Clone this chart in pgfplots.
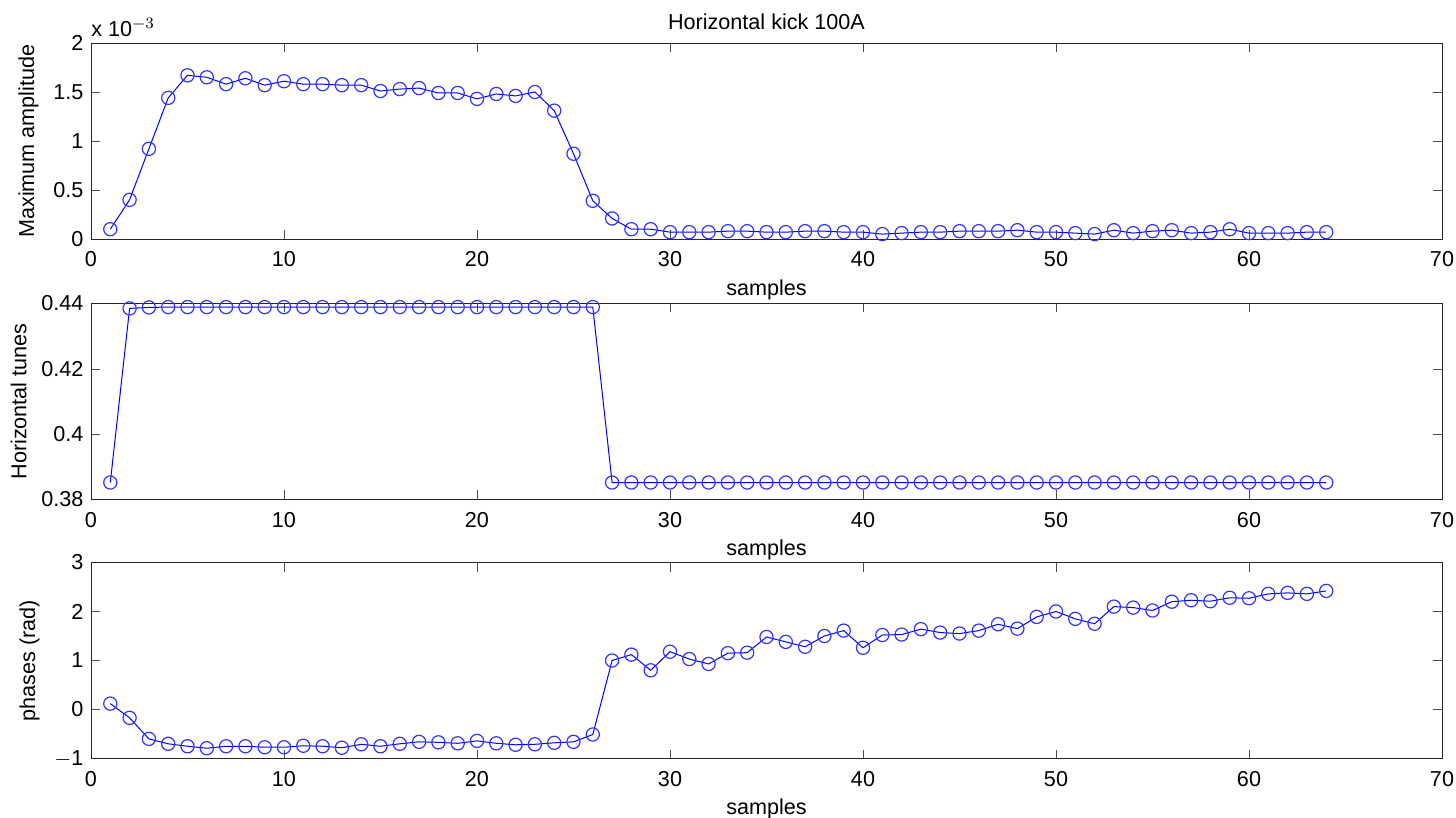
\documentclass[border=0pt]{standalone}
\usepackage{fontspec}
\setmainfont{Liberation Sans}
\usepackage{pgfplots}
\pgfplotsset{compat=1.18}

\pgfplotsset{
  matlab/.style={
    scale only axis, width=675.5pt, height=98pt,
    xmin=0, xmax=70, xtick={0,10,...,70},
    tick align=inside, major tick length=4.5pt,
    axis line style={black!85}, tick style={black!70},
    xlabel={samples},
    xticklabel style={yshift=-2.5pt},
    xlabel style={yshift=1pt},
    tick label style={font=\fontsize{10.8}{12}\selectfont},
    label style={font=\fontsize{10.8}{12}\selectfont},
    /pgf/number format/assume math mode=true,
    clip=false,
  },
  data/.style={blue, line width=0.5pt, mark=o, mark size=3.3pt,
    mark options={line width=0.6pt, draw=blue!80}},
}

\pgfplotstableread{
x y
1 0.10
2 0.40
3 0.92
4 1.44
5 1.67
6 1.65
7 1.58
8 1.64
9 1.57
10 1.61
11 1.58
12 1.58
13 1.57
14 1.57
15 1.51
16 1.53
17 1.54
18 1.49
19 1.49
20 1.43
21 1.48
22 1.46
23 1.50
24 1.31
25 0.87
26 0.39
27 0.21
28 0.10
29 0.10
30 0.07
31 0.07
32 0.07
33 0.08
34 0.08
35 0.07
36 0.07
37 0.08
38 0.08
39 0.07
40 0.07
41 0.05
42 0.06
43 0.07
44 0.07
45 0.08
46 0.08
47 0.08
48 0.09
49 0.07
50 0.07
51 0.06
52 0.05
53 0.09
54 0.06
55 0.08
56 0.09
57 0.06
58 0.07
59 0.10
60 0.06
61 0.06
62 0.06
63 0.07
64 0.07
}\amplitude

\pgfplotstableread{
x y
1 0.3852
2 0.4385
3 0.4388
4 0.4389
5 0.4389
6 0.4389
7 0.4389
8 0.4389
9 0.4389
10 0.4389
11 0.4389
12 0.4389
13 0.4389
14 0.4389
15 0.4389
16 0.4389
17 0.4389
18 0.4389
19 0.4389
20 0.4389
21 0.4389
22 0.4389
23 0.4389
24 0.4389
25 0.4389
26 0.4389
27 0.3852
28 0.3852
29 0.3852
30 0.3852
31 0.3852
32 0.3852
33 0.3852
34 0.3852
35 0.3852
36 0.3852
37 0.3852
38 0.3852
39 0.3852
40 0.3852
41 0.3852
42 0.3852
43 0.3852
44 0.3852
45 0.3852
46 0.3852
47 0.3852
48 0.3852
49 0.3852
50 0.3852
51 0.3852
52 0.3852
53 0.3852
54 0.3852
55 0.3852
56 0.3852
57 0.3852
58 0.3852
59 0.3852
60 0.3852
61 0.3852
62 0.3852
63 0.3852
64 0.3852
}\tunes

\pgfplotstableread{
x y
1 0.12
2 -0.17
3 -0.60
4 -0.70
5 -0.75
6 -0.79
7 -0.75
8 -0.75
9 -0.77
10 -0.77
11 -0.74
12 -0.75
13 -0.78
14 -0.71
15 -0.75
16 -0.70
17 -0.66
18 -0.67
19 -0.69
20 -0.64
21 -0.69
22 -0.72
23 -0.71
24 -0.68
25 -0.66
26 -0.51
27 1.00
28 1.12
29 0.80
30 1.18
31 1.03
32 0.93
33 1.15
34 1.16
35 1.48
36 1.38
37 1.28
38 1.50
39 1.61
40 1.26
41 1.52
42 1.53
43 1.64
44 1.57
45 1.55
46 1.61
47 1.74
48 1.65
49 1.89
50 2.00
51 1.85
52 1.75
53 2.10
54 2.08
55 2.02
56 2.20
57 2.23
58 2.21
59 2.28
60 2.27
61 2.36
62 2.38
63 2.36
64 2.42
}\phases

\begin{document}
\fontsize{10.8}{12}\selectfont
\begin{tikzpicture}
\useasboundingbox (-45.5pt,0pt) rectangle (682.5pt,-409pt);

\begin{axis}[matlab, at={(0pt,-21.5pt)}, anchor=north west,
  ymin=0, ymax=2, ytick={0,0.5,...,2},
  yticklabels={0,0.5,1,1.5,2},
  ylabel={Maximum amplitude},
  title={Horizontal kick 100A}, title style={yshift=-3pt}]
\addplot[data] table[x=x,y=y] {\amplitude};
\node[anchor=south west, inner sep=0pt] at (rel axis cs:0,1) [yshift=3pt]
  {x 10$^{-3}$};
\end{axis}

\begin{axis}[matlab, at={(0pt,-151.75pt)}, anchor=north west,
  ymin=0.38, ymax=0.44, ytick={0.38,0.40,0.42,0.44},
  yticklabels={0.38,0.4,0.42,0.44},
  ylabel={Horizontal tunes}]
\addplot[data] table[x=x,y=y] {\tunes};
\end{axis}

\begin{axis}[matlab, at={(0pt,-281.25pt)}, anchor=north west,
  ymin=-1, ymax=3, ytick={-1,0,1,2,3},
  yticklabels={$-$1,0,1,2,3},
  ylabel={phases (rad)}]
\addplot[data] table[x=x,y=y] {\phases};
\end{axis}
\end{tikzpicture}
\end{document}
